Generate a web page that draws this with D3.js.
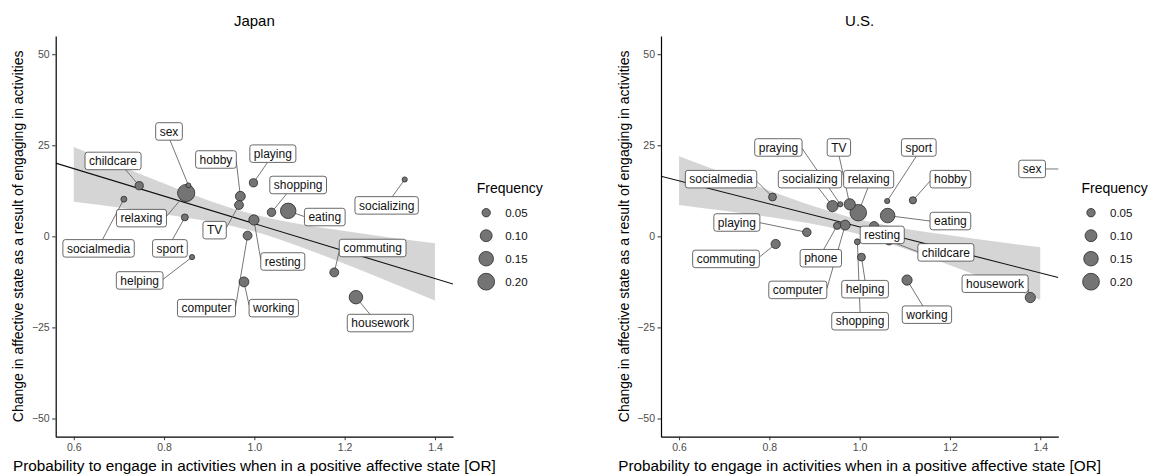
<!DOCTYPE html>
<html>
<head>
<meta charset="utf-8">
<script src="https://cdn.jsdelivr.net/npm/d3@7"></script>
<style>
body { margin: 0; background: #fff; }
text { font-family: "Liberation Sans", Arial, Helvetica, sans-serif; }
</style>
</head>
<body>
<div id="chart"></div>
<script>
// ---- data ----
var jpActivity = ["childcare", "sex", "relaxing", "socialmedia", "sport", "helping", "hobby", "TV", "playing",
    "resting", "computer", "working", "shopping", "eating", "socializing", "commuting", "housework"];
var jpOR = [0.745, 0.854, 0.849, 0.711, 0.846, 0.862, 0.969, 0.966, 0.998,
    0.999, 0.985, 0.977, 1.038, 1.075, 1.333, 1.177, 1.225];
var jpChange = [13.9, 14.0, 11.9, 10.2, 5.2, -5.7, 11.0, 8.6, 14.7,
    4.5, 0.2, -12.5, 6.6, 7.0, 15.6, -9.9, -16.7];
var jpFreq = [0.048, 0.017, 0.21, 0.025, 0.034, 0.019, 0.069, 0.056, 0.048,
    0.074, 0.056, 0.069, 0.051, 0.17, 0.019, 0.056, 0.129];

var usActivity = ["socialmedia", "socializing", "praying", "TV", "relaxing", "sport", "hobby", "eating", "phone",
    "computer", "resting", "childcare", "shopping", "helping", "playing", "commuting", "working", "housework", "sex"];
var usOR = [0.807, 0.940, 0.957, 0.978, 0.997, 1.061, 1.118, 1.062, 0.950,
    0.968, 1.032, 1.065, 0.995, 1.004, 0.883, 0.814, 1.105, 1.378, 1.55];
var usChange = [10.8, 8.3, 8.8, 8.8, 6.5, 9.7, 9.9, 5.7, 2.9,
    3.1, 2.8, -1.2, -1.5, -5.7, 1.1, -2.1, -12.0, -16.8, 18.5];
var usFreq = [0.044, 0.089, 0.019, 0.089, 0.193, 0.019, 0.037, 0.149, 0.037,
    0.069, 0.06, 0.051, 0.025, 0.044, 0.051, 0.06, 0.074, 0.074, 0.02];

// regression line end points and confidence band
var fitX = [0.56, 1.44];
var jpFit = [20.1, -13.1];
var usFit = [16.5, -11.3];
var bandX = [0.6, 0.7, 0.8, 0.9, 1.0, 1.1, 1.2, 1.3, 1.4];
var jpBandLow = [9.5, 7.9, 6.1, 4.1, 1.3, -2.8, -7.5, -12.5, -17.6];
var jpBandHigh = [24.5, 19.5, 14.5, 9.8, 6.0, 3.4, 1.5, -0.3, -1.9];
var usBandLow = [8.6, 7.0, 5.3, 3.3, 0.5, -3.4, -7.9, -12.6, -17.4];
var usBandHigh = [22.0, 17.3, 12.6, 8.2, 4.6, 2.1, 0.3, -1.4, -3.0];

var xTicks = [0.6, 0.8, 1.0, 1.2, 1.4];
var yTicks = [-50, -25, 0, 25, 50];
var legendFreq = [0.05, 0.10, 0.15, 0.20];

// ---- label layout (repelled label centres, in data units) ----
var jpLabelX = [0.687, 0.811, 0.750, 0.655, 0.813, 0.746, 0.915, 0.912, 1.041,
    1.063, 0.894, 1.043, 1.097, 1.156, 1.293, 1.262, 1.279];
var jpLabelY = [20.7, 28.8, 5.0, -3.3, -3.3, -12.1, 21.1, 1.7, 22.7,
    -6.9, -19.7, -19.7, 14.1, 5.3, 8.5, -3.2, -23.8];
var usLabelX = [0.693, 0.890, 0.820, 0.954, 1.020, 1.131, 1.201, 1.201, 0.914,
    0.863, 1.050, 1.191, 1.001, 1.012, 0.728, 0.704, 1.149, 1.300, 1.382];
var usLabelY = [15.7, 15.7, 24.4, 24.4, 15.7, 24.4, 15.7, 4.2, -6.0,
    -14.7, 0.4, -4.4, -23.3, -14.5, 3.8, -6.2, -21.5, -13.0, 18.5];

var wt = 1163;
var ht = 476;
var plotTop = 36;
var plotBottom = 436.7;
var plotW = 397.3;
var xDomain = [0.56, 1.44];
var yDomain = [-55, 55];

var svg = d3.select("#chart").append("svg")
    .attr("width", wt)
    .attr("height", ht);

svg.append("rect")
    .attr("width", wt)
    .attr("height", ht)
    .attr("fill", "#fff");

var size = d3.scaleSqrt().domain([0, 0.2]).range([0, 8.4]);
var pointFill = "#747474";
var pointStroke = "#2a2a2a";

// where a repel segment meets its label box (nearest side, nudged to centre)
var connect = function (px, py, x1, y1, x2, y2) {
    var ox, oy, left = false, right = false, top = false, bottom = false;
    if (px >= x1 && px <= x2) ox = px;
    else if (px > x2) { ox = x2; right = true; }
    else { ox = x1; left = true; }
    if (py >= y1 && py <= y2) oy = py;
    else if (py > y2) { oy = y2; bottom = true; }
    else { oy = y1; top = true; }
    var midx = (x1 + x2) / 2, midy = (y1 + y2) / 2;
    var d = Math.hypot(px - ox, py - oy);
    if (d === 0) return null;
    var h = left || right, v = top || bottom;
    var alt1 = Math.hypot(px - midx, py - oy);
    var alt2 = Math.hypot(py - midy, px - ox);
    if (v && !h) {
        ox = ox + (midx - ox) * d / alt1;
    } else if (h && !v) {
        oy = oy + (midy - oy) * d / alt2;
    } else if (alt1 < alt2) {
        ox = ox + (midx - ox) * d / alt1;
    } else {
        oy = oy + (midy - oy) * d / alt2;
    }
    return [ox, oy];
};

var drawPanel = function (p) {
    var x = d3.scaleLinear().domain(xDomain).range([p.left, p.left + plotW]);
    var y = d3.scaleLinear().domain(yDomain).range([plotBottom, plotTop]);

    svg.append("clipPath").attr("id", "clip-" + p.id)
        .append("rect")
        .attr("x", p.left)
        .attr("y", plotTop)
        .attr("width", plotW)
        .attr("height", plotBottom - plotTop);

    var g = svg.append("g");
    var inner = g.append("g").attr("clip-path", "url(#clip-" + p.id + ")");

    var band = d3.area()
        .x(function (d, i) { return x(bandX[i]); })
        .y0(function (d, i) { return y(p.low[i]); })
        .y1(function (d, i) { return y(p.high[i]); })
        .curve(d3.curveMonotoneX);
    inner.append("path")
        .datum(bandX)
        .attr("d", band)
        .attr("fill", "#d5d5d5");

    var line = d3.line()
        .x(function (d, i) { return x(fitX[i]); })
        .y(function (d, i) { return y(p.fit[i]); });
    inner.append("path")
        .datum(fitX)
        .attr("d", line)
        .attr("fill", "none")
        .attr("stroke", "#111")
        .attr("stroke-width", 1.1);

    var data = p.names.map(function (n, i) {
        return {name: n, or: p.or[i], change: p.change[i], freq: p.freq[i], lx: p.lx[i], ly: p.ly[i]};
    });

    // measure label text, then find where the segment meets the box
    var labels = g.append("g");
    data.forEach(function (d) {
        var t = labels.append("text")
            .attr("font-size", "12px")
            .text(d.name);
        d.tw = t.node().getComputedTextLength();
        t.remove();
        d.bw = d.tw + 8;
        d.bh = 17.5;
        d.bx = x(d.lx) - d.bw / 2;
        d.by = y(d.ly) - d.bh / 2;
        d.px = x(d.or);
        d.py = y(d.change);
        d.end = connect(d.px, d.py, d.bx, d.by, d.bx + d.bw, d.by + d.bh);
    });

    inner.selectAll(".seg")
        .data(data.filter(function (d) { return d.end !== null; }))
        .enter().append("line")
        .attr("class", "seg")
        .attr("x1", function (d) { return d.px; })
        .attr("y1", function (d) { return d.py; })
        .attr("x2", function (d) { return d.end[0]; })
        .attr("y2", function (d) { return d.end[1]; })
        .attr("stroke", "#666")
        .attr("stroke-width", 0.9);

    var sorted = data.slice().sort(function (a, b) { return b.freq - a.freq; });
    inner.selectAll(".pt")
        .data(sorted)
        .enter().append("circle")
        .attr("class", "pt")
        .attr("cx", function (d) { return d.px; })
        .attr("cy", function (d) { return d.py; })
        .attr("r", function (d) { return size(d.freq); })
        .attr("fill", pointFill)
        .attr("stroke", pointStroke)
        .attr("stroke-width", 0.8);

    labels.raise();
    var lab = labels.selectAll(".lab")
        .data(data)
        .enter().append("g")
        .attr("class", "lab");
    lab.append("rect")
        .attr("x", function (d) { return d.bx; })
        .attr("y", function (d) { return d.by; })
        .attr("width", function (d) { return d.bw; })
        .attr("height", function (d) { return d.bh; })
        .attr("rx", 2.5)
        .attr("fill", "#fff")
        .attr("stroke", "#444")
        .attr("stroke-width", 0.8);
    lab.append("text")
        .attr("x", function (d) { return d.bx + d.bw / 2; })
        .attr("y", function (d) { return d.by + d.bh / 2 + 4.2; })
        .attr("text-anchor", "middle")
        .attr("font-size", "12px")
        .attr("fill", "#111")
        .text(function (d) { return d.name; });

    // axes
    var ax = g.append("g")
        .attr("transform", "translate(0," + plotBottom + ")")
        .call(d3.axisBottom(x).tickValues(xTicks).tickFormat(d3.format(".1f")).tickSize(3.5).tickSizeOuter(0).tickPadding(3));
    var ay = g.append("g")
        .attr("transform", "translate(" + p.left + ",0)")
        .call(d3.axisLeft(y).tickValues(yTicks).tickSize(3.5).tickSizeOuter(0).tickPadding(2.5));
    [ax, ay].forEach(function (a) {
        a.select(".domain").attr("stroke", "#000").attr("stroke-width", 1.2);
        a.selectAll(".tick line").attr("stroke", "#333");
        a.selectAll(".tick text")
            .attr("fill", "#4d4d4d")
            .style("font-size", "10.5px")
            .style("font-family", "'Liberation Sans', Arial, sans-serif");
    });

    var mid = p.left + plotW / 2;
    g.append("text")
        .attr("x", mid)
        .attr("y", 25.5)
        .attr("text-anchor", "middle")
        .attr("font-size", "15px")
        .text(p.title);
    g.append("text")
        .attr("x", mid)
        .attr("y", 470.5)
        .attr("text-anchor", "middle")
        .attr("font-size", "15.3px")
        .text("Probability to engage in activities when in a positive affective state [OR]");
    g.append("text")
        .attr("transform", "translate(" + (p.left - 32.5) + "," + ((plotTop + plotBottom) / 2) + ") rotate(-90)")
        .attr("text-anchor", "middle")
        .attr("font-size", "14px")
        .text("Change in affective state as a result of engaging in activities");

    // legend
    var lg = g.append("g").attr("transform", "translate(" + p.legendX + ",0)");
    lg.append("text")
        .attr("x", 0)
        .attr("y", 193)
        .attr("font-size", "14px")
        .text("Frequency");
    var items = lg.selectAll(".item")
        .data(legendFreq)
        .enter().append("g")
        .attr("class", "item")
        .attr("transform", function (d, i) { return "translate(0," + (212.7 + i * 23) + ")"; });
    items.append("circle")
        .attr("cx", 9.5)
        .attr("r", function (d) { return size(d); })
        .attr("fill", pointFill)
        .attr("stroke", pointStroke)
        .attr("stroke-width", 0.8);
    items.append("text")
        .attr("x", 28.5)
        .attr("y", 4)
        .attr("font-size", "11.5px")
        .attr("fill", "#111")
        .text(function (d) { return d3.format(".2f")(d); });
};

drawPanel({id: "jp", title: "Japan", left: 55.7, names: jpActivity, or: jpOR, change: jpChange, freq: jpFreq,
    lx: jpLabelX, ly: jpLabelY, fit: jpFit, low: jpBandLow, high: jpBandHigh, legendX: 476.7});
drawPanel({id: "us", title: "U.S.", left: 661, names: usActivity, or: usOR, change: usChange, freq: usFreq,
    lx: usLabelX, ly: usLabelY, fit: usFit, low: usBandLow, high: usBandHigh, legendX: 1081.5});
</script>
</body>
</html>
